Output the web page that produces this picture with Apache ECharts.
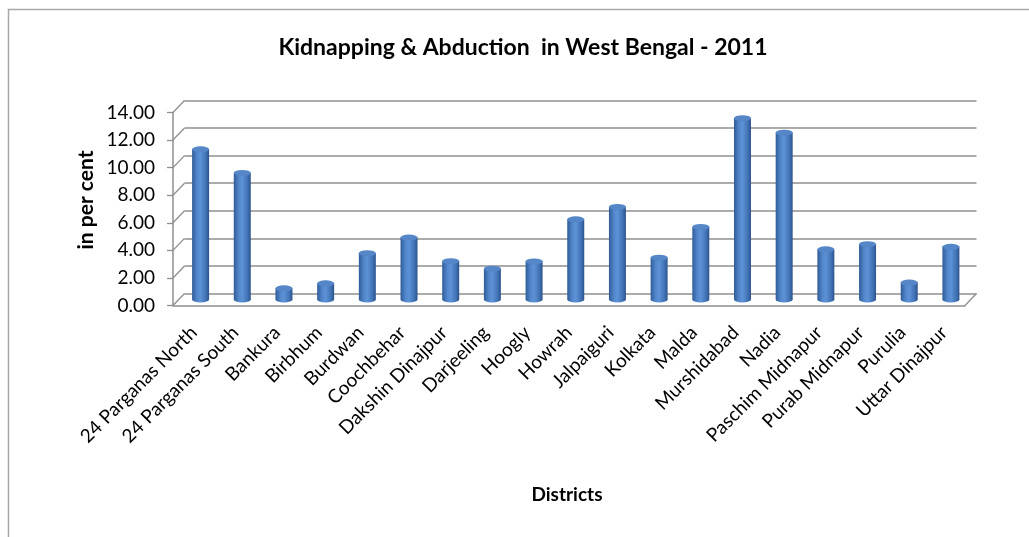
<!DOCTYPE html>
<html>
<head>
<meta charset="utf-8">
<script src="https://cdn.jsdelivr.net/npm/echarts/dist/echarts.min.js"></script>
<style>
  html, body { margin: 0; padding: 0; background: #ffffff; }
  #chart { width: 1029px; height: 537px; }
</style>
</head>
<body>
<div id="chart"></div>
<script>
// District-wise share of kidnapping & abduction cases, West Bengal 2011 (in per cent)
const districts = [
  '24 Parganas North', '24 Parganas South', 'Bankura', 'Birbhum', 'Burdwan',
  'Coochbehar', 'Dakshin Dinajpur', 'Darjeeling', 'Hoogly', 'Howrah',
  'Jalpaiguri', 'Kolkata', 'Malda', 'Murshidabad', 'Nadia',
  'Paschim Midnapur', 'Purab Midnapur', 'Purulia', 'Uttar Dinajpur'
];
const kidnapShare = [
  10.91, 9.20, 0.83, 1.19, 3.38,
  4.51, 2.80, 2.25, 2.78, 5.83,
  6.73, 3.05, 5.28, 13.17, 12.12,
  3.66, 4.03, 1.25, 3.84
];
const yTicks = [0, 2, 4, 6, 8, 10, 12, 14];

const chartTitle = 'Kidnapping & Abduction  in West Bengal - 2011';
const xTitle = 'Districts';
const yTitle = 'in per cent';

// Pseudo-3D layout: a front plane (axis), a back wall (gridlines) and the
// bars standing half-way between them.
const FONT = 'Lato, "Open Sans", "Liberation Sans", sans-serif';
const FRAME = '#8f8f8f';
const DEPTH_X = 11.5, DEPTH_Y = -12;
const PLOT_W = 792, PLOT_H = 193;
const front = { left: 173, top: 112.5, width: PLOT_W, height: PLOT_H };
const back = { left: front.left + DEPTH_X, top: front.top + DEPTH_Y, width: PLOT_W, height: PLOT_H };
const mid = { left: front.left + DEPTH_X / 2 + 1, top: front.top + DEPTH_Y / 2, width: PLOT_W, height: PLOT_H };

const BAR_W = 17;
const cylinderFill = new echarts.graphic.LinearGradient(0, 0, 1, 0, [
  { offset: 0, color: '#305c98' },
  { offset: 0.3, color: '#5287cb' },
  { offset: 0.5, color: '#5d92d6' },
  { offset: 0.8, color: '#4274b6' },
  { offset: 1, color: '#2d548d' }
]);

// Diagonal edges joining the front axis ticks to the back-wall gridlines
function renderDepthEdges(params, api) {
  const cs = params.coordSys;
  const v = api.value(1);
  const y = api.coord([0, v])[1];
  const style = { stroke: FRAME, lineWidth: 1.3 };
  const children = [{
    type: 'line',
    shape: { x1: cs.x, y1: y, x2: cs.x + DEPTH_X, y2: y + DEPTH_Y },
    style: style
  }];
  if (v === 0) {
    const xr = cs.x + cs.width;
    children.push({
      type: 'line',
      shape: { x1: xr, y1: y, x2: xr + DEPTH_X, y2: y + DEPTH_Y },
      style: style
    });
  }
  return { type: 'group', children: children };
}

const valueAxisBase = { type: 'value', min: 0, max: 14, interval: 2 };

const option = {
  backgroundColor: '#ffffff',
  animation: false,
  textStyle: { fontFamily: FONT },
  title: {
    text: chartTitle,
    left: 518,
    top: 31,
    textAlign: 'center',
    textStyle: { fontFamily: FONT, fontSize: 23, fontWeight: 'bold', color: '#000000' }
  },
  grid: [
    Object.assign({}, front),
    Object.assign({}, back),
    Object.assign({}, mid)
  ],
  xAxis: [
    {
      type: 'category', gridIndex: 0, data: districts,
      axisLine: { show: true, lineStyle: { color: FRAME, width: 1.5 } },
      axisTick: { show: false }, splitLine: { show: false },
      axisLabel: {
        show: true, interval: 0, rotate: 45, margin: 24,
        fontFamily: FONT, fontSize: 19, color: '#000000'
      }
    },
    {
      type: 'category', gridIndex: 1, data: districts, show: false
    },
    {
      type: 'category', gridIndex: 2, data: districts, show: false
    }
  ],
  yAxis: [
    Object.assign({}, valueAxisBase, {
      gridIndex: 0,
      axisLine: { show: true, lineStyle: { color: FRAME, width: 1.5 } },
      axisTick: { show: true, inside: false, length: 6, lineStyle: { color: FRAME, width: 1.3 } },
      axisLabel: {
        show: true, margin: 18, fontFamily: FONT, fontSize: 19, color: '#000000',
        formatter: function (v) { return v.toFixed(2); }
      },
      splitLine: { show: false }
    }),
    Object.assign({}, valueAxisBase, {
      gridIndex: 1,
      axisLine: { show: false }, axisTick: { show: false }, axisLabel: { show: false },
      splitLine: { show: true, lineStyle: { color: FRAME, width: 1.6 } }
    }),
    Object.assign({}, valueAxisBase, { gridIndex: 2, show: false })
  ],
  graphic: [
    {
      type: 'rect', silent: true, z: -10,
      shape: { x: 8.5, y: 9.5, width: 1060, height: 560 },
      style: { fill: 'none', stroke: '#a8a8a8', lineWidth: 1.5 }
    },
    {
      type: 'text', silent: true,
      x: 567, y: 495,
      style: {
        text: xTitle, fontFamily: FONT, fontSize: 19, fontWeight: 'bold', fill: '#000000',
        align: 'center', verticalAlign: 'middle'
      }
    },
    {
      type: 'text', silent: true,
      x: 86, y: 200, rotation: Math.PI / 2,
      style: {
        text: yTitle, fontFamily: FONT, fontSize: 21, fontWeight: 'bold', fill: '#000000',
        align: 'center', verticalAlign: 'middle'
      }
    }
  ],
  series: [
    {
      type: 'custom', name: 'depth', xAxisIndex: 0, yAxisIndex: 0,
      silent: true, clip: false, z: 1,
      renderItem: renderDepthEdges,
      data: yTicks.map(function (v) { return [0, v]; })
    },
    {
      // rounded base of each cylinder
      type: 'pictorialBar', name: 'base', xAxisIndex: 2, yAxisIndex: 2,
      symbol: 'circle', symbolSize: [BAR_W, 6], symbolPosition: 'start',
      symbolOffset: [0, '50%'], barGap: '-100%', z: 3,
      itemStyle: { color: cylinderFill },
      data: kidnapShare
    },
    {
      type: 'bar', name: 'share', xAxisIndex: 2, yAxisIndex: 2,
      barWidth: BAR_W, barGap: '-100%', z: 4,
      itemStyle: { color: cylinderFill },
      data: kidnapShare
    },
    {
      // cap of each cylinder
      type: 'pictorialBar', name: 'cap', xAxisIndex: 2, yAxisIndex: 2,
      symbol: 'circle', symbolSize: [BAR_W, 6], symbolPosition: 'end',
      symbolOffset: [0, '-50%'], barGap: '-100%', z: 5,
      itemStyle: { color: '#5586c8', borderColor: '#36629e', borderWidth: 0.8 },
      data: kidnapShare
    }
  ]
};

const chart = echarts.init(document.getElementById('chart'), null, { renderer: 'canvas' });
chart.setOption(option);
</script>
</body>
</html>
